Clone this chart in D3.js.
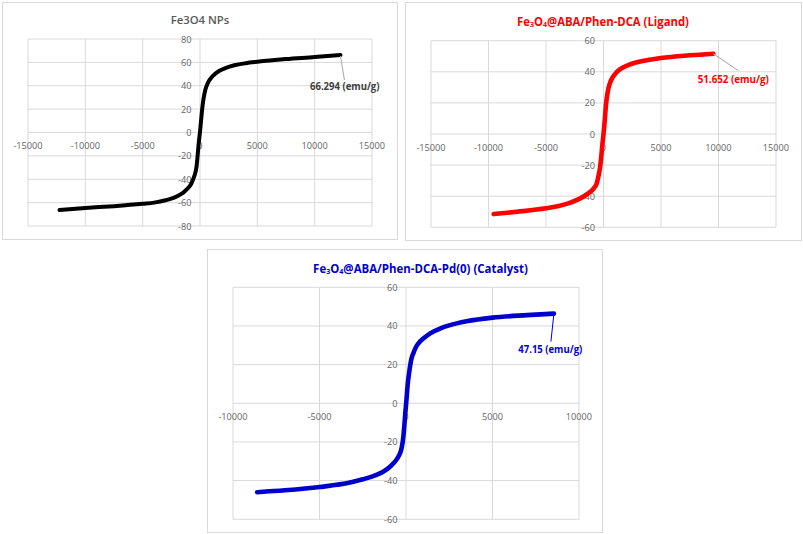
<!DOCTYPE html>
<html>
<head>
<meta charset="utf-8">
<script src="https://cdn.jsdelivr.net/npm/d3@7"></script>
<style>
  html,body{margin:0;padding:0;background:#fff;}
  svg{display:block;}
  text{font-family:"Open Sans","Liberation Sans",sans-serif;}
</style>
</head>
<body>
<svg id="c" width="803" height="534"></svg>
<script>
// ---------- DATA ----------
// Panel 1: Fe3O4 NPs  (field in Oe, magnetization in emu/g)
const field1 = [-12250,-10000,-7500,-5000,-4000,-3000,-2200,-1700,-1300,-1000,-800,-600,-450,-300,-200,-100,0,
                100,200,300,450,600,800,1000,1300,1700,2200,3000,4000,5000,7500,10000,12250];
const mag1   = [-66.3,-64.6,-63.0,-61.0,-60.0,-58.0,-55.5,-53.0,-50.0,-47.0,-44.5,-40.0,-36.0,-29.0,-19.0,-8.0,0.5,
                11.0,21.0,28.5,36.0,40.5,44.5,47.0,50.0,52.8,55.0,57.5,59.3,60.5,62.8,64.5,66.294];
// Panel 2: Fe3O4@ABA/Phen-DCA (Ligand)
const field2 = [-9550,-7500,-5000,-4000,-3000,-2300,-1700,-1300,-1000,-800,-600,-450,-300,-200,-100,0,
                100,200,300,450,600,800,1000,1300,1700,2200,3000,4000,5000,7500,9550];
const mag2   = [-51.5,-50.0,-47.8,-46.5,-44.5,-42.4,-40.0,-38.0,-36.3,-34.5,-32.0,-27.5,-21.5,-15.0,-7.0,0,
                8.0,17.5,24.0,30.0,33.5,36.5,38.5,40.8,42.8,44.5,46.3,47.8,48.9,50.6,51.652];
// Panel 3: Fe3O4@ABA/Phen-DCA-Pd(0) (Catalyst)
const field3 = [-8600,-7000,-5000,-3240,-2500,-1700,-1300,-925,-700,-500,-350,-250,-150,-100,-40,0,
                40,100,200,300,450,600,800,1000,1400,2000,2500,3500,5000,7000,8550];
const mag3   = [-46.0,-45.0,-43.3,-41.0,-39.3,-37.0,-35.3,-32.8,-30.8,-28.5,-26.0,-23.0,-17.0,-12.0,-5.0,-1.0,
                3.4,10.0,17.0,22.5,26.5,29.5,31.9,33.5,36.2,38.8,40.3,42.4,44.3,45.6,46.4];

const xTicks1 = [-15000,-10000,-5000,0,5000,10000,15000];
const yTicks1 = [-80,-60,-40,-20,0,20,40,60,80];
const xTicks2 = [-15000,-10000,-5000,0,5000,10000,15000];
const yTicks2 = [-60,-40,-20,0,20,40,60];
const xTicks3 = [-10000,-5000,0,5000,10000];
const yTicks3 = [-60,-40,-20,0,20,40,60];

const labels = ["66.294 (emu/g)", "51.652 (emu/g)", "47.15 (emu/g)"];

// ---------- LAYOUT ----------
const svg = d3.select("#c");
const grid = "#d9d9d9";

const panels = [
  { box:[2,2,397,239], plot:[28,39,372,226], xd:[-15000,15000], yd:[-80,80],
    xt:xTicks1, yt:yTicks1, H:field1, M:mag1, color:"#000000", width:4,
    title:[{t:"Fe3O4 NPs"}], titleColor:"#595959", titleWeight:600, titleSize:11.5, titleX:200, titleY:18.5, titleW:59,
    label:labels[0], labelColor:"#404040", leader:"#a6a6a6", lead:[[0,1],[4,25]], labelPos:[310,86], labelW:70 },
  { box:[405,2,801,240], plot:[431,40.7,776,227.3], xd:[-15000,15000], yd:[-60,60],
    xt:xTicks2, yt:yTicks2, H:field2, M:mag2, color:"#ff0000", width:4.6,
    title:[{t:"Fe"},{t:"3",sub:true},{t:"O"},{t:"4",sub:true},{t:"@ABA/Phen-DCA (Ligand)"}],
    titleColor:"#ff0000", titleWeight:700, titleSize:11.8, titleX:603, titleY:20.5, titleW:172,
    label:labels[1], labelColor:"#ff0000", leader:"#a6a6a6", lead:[[0,0],[25,17]], labelPos:[697.7,79.3], labelW:71.6 },
  { box:[207,249,602,532], plot:[233,287.3,579,519.3], xd:[-10000,10000], yd:[-60,60],
    xt:xTicks3, yt:yTicks3, H:field3, M:mag3, color:"#0000cc", width:4.6,
    title:[{t:"Fe"},{t:"3",sub:true},{t:"O"},{t:"4",sub:true},{t:"@ABA/Phen-DCA-Pd(0) (Catalyst)"}],
    titleColor:"#0000cc", titleWeight:700, titleSize:11.8, titleX:420.5, titleY:267.5, titleW:215,
    label:labels[2], labelColor:"#0000cc", leader:"#0000cc", lead:[[0,0],[-3,28]], labelPos:[518.3,349], labelW:64.4 }
];

// squeeze text horizontally to a target width, keeping its height
function squeeze(g, textSel, anchorX, targetW){
  const bw = textSel.node().getBBox().width;
  const sx = bw > 0 ? targetW / bw : 1;
  g.attr("transform", `translate(${anchorX},0) scale(${sx},1) translate(${-anchorX},0)`);
}

panels.forEach(p => {
  const g = svg.append("g");
  g.append("rect")
    .attr("x", p.box[0]+0.5).attr("y", p.box[1]+0.5)
    .attr("width", p.box[2]-p.box[0]).attr("height", p.box[3]-p.box[1])
    .attr("fill", "#fff").attr("stroke", grid).attr("stroke-width", 1);

  const x = d3.scaleLinear().domain(p.xd).range([p.plot[0], p.plot[2]]);
  const y = d3.scaleLinear().domain(p.yd).range([p.plot[3], p.plot[1]]);

  g.append("g").selectAll("line").data(p.xt).join("line")
    .attr("x1", d => x(d)).attr("x2", d => x(d))
    .attr("y1", y(p.yd[1])).attr("y2", y(p.yd[0]))
    .attr("stroke", grid).attr("stroke-width", 1);
  g.append("g").selectAll("line").data(p.yt).join("line")
    .attr("x1", x(p.xd[0])).attr("x2", x(p.xd[1]))
    .attr("y1", d => y(d)).attr("y2", d => y(d))
    .attr("stroke", grid).attr("stroke-width", 1);

  g.append("g").selectAll("text").data(p.xt).join("text")
    .attr("x", d => x(d)).attr("y", y(0) + 13)
    .attr("text-anchor", "middle").attr("dominant-baseline", "central")
    .attr("font-size", 9.2).attr("fill", "#666")
    .text(d => d);
  g.append("g").selectAll("text").data(p.yt).join("text")
    .attr("x", x(0) - 8.5).attr("y", d => y(d))
    .attr("text-anchor", "end").attr("dominant-baseline", "central")
    .attr("font-size", 9.2).attr("fill", "#666")
    .text(d => d);

  const pts = p.H.map((h, i) => [h, p.M[i]]);
  const line = d3.line().x(d => x(d[0])).y(d => y(d[1])).curve(d3.curveMonotoneX);
  g.append("path").attr("d", line(pts))
    .attr("fill", "none").attr("stroke", p.color)
    .attr("stroke-width", p.width).attr("stroke-linecap", "round").attr("stroke-linejoin", "round");

  // title
  const tg = g.append("g");
  const t = tg.append("text")
    .attr("x", p.titleX).attr("y", p.titleY)
    .attr("text-anchor", "middle").attr("dominant-baseline", "central")
    .attr("font-size", p.titleSize).attr("font-weight", p.titleWeight).attr("fill", p.titleColor);
  p.title.forEach((s, i) => {
    const ts = t.append("tspan").text(s.t);
    const prev = p.title[i-1];
    if (s.sub) ts.attr("font-size", "0.62em").attr("dy", "0.45em");
    else if (prev && prev.sub) ts.attr("dy", "-0.28em");
  });
  squeeze(tg, t, p.titleX, p.titleW);

  // data label with leader line
  const last = pts[pts.length - 1];
  const ex = x(last[0]), ey = y(last[1]);
  g.append("line")
    .attr("x1", ex + p.lead[0][0]).attr("y1", ey + p.lead[0][1])
    .attr("x2", ex + p.lead[1][0]).attr("y2", ey + p.lead[1][1])
    .attr("stroke", p.leader).attr("stroke-width", 1);
  const lg = g.append("g");
  const lb = lg.append("text")
    .attr("x", p.labelPos[0]).attr("y", p.labelPos[1])
    .attr("dominant-baseline", "central")
    .attr("font-size", 10.5).attr("font-weight", 700).attr("fill", p.labelColor)
    .text(p.label);
  squeeze(lg, lb, p.labelPos[0], p.labelW);
});
</script>
</body>
</html>
